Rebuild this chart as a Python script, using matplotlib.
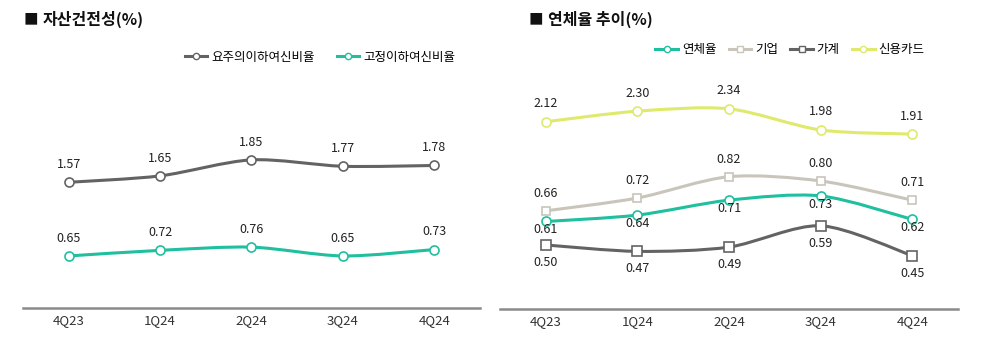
import matplotlib.pyplot as plt
from matplotlib.path import Path
from matplotlib.patches import PathPatch
from matplotlib.lines import Line2D

plt.rcParams['font.family'] = ['Noto Sans CJK KR', 'DejaVu Sans']

quarters = ['4Q23', '1Q24', '2Q24', '3Q24', '4Q24']

# 자산건전성
watch_ratio = [1.57, 1.65, 1.85, 1.77, 1.78]   # 요주의이하여신비율
npl_ratio = [0.65, 0.72, 0.76, 0.65, 0.73]     # 고정이하여신비율

# 연체율 추이
delinq = [0.61, 0.64, 0.71, 0.73, 0.62]        # 연체율
corp = [0.66, 0.72, 0.82, 0.80, 0.71]          # 기업
household = [0.50, 0.47, 0.49, 0.59, 0.45]     # 가계
card = [2.12, 2.30, 2.34, 1.98, 1.91]          # 신용카드

TEAL = '#1fbf9f'
DGRAY = '#636363'
BEIGE = '#c9c5bb'
LIME = '#dfe96c'


def smooth_line(ax, xs, ys, color, lw=2.2):
    # catmull-rom -> cubic bezier through the data points
    pts = list(zip(xs, ys))
    verts = [pts[0]]
    codes = [Path.MOVETO]
    n = len(pts)
    for i in range(n - 1):
        p0 = pts[i - 1] if i > 0 else pts[i]
        p1 = pts[i]
        p2 = pts[i + 1]
        p3 = pts[i + 2] if i + 2 < n else pts[i + 1]
        c1 = (p1[0] + (p2[0] - p0[0]) / 7, p1[1] + (p2[1] - p0[1]) / 7)
        c2 = (p2[0] - (p3[0] - p1[0]) / 7, p2[1] - (p3[1] - p1[1]) / 7)
        verts += [c1, c2, p2]
        codes += [Path.CURVE4] * 3
    ax.add_patch(PathPatch(Path(verts, codes), fill=False, edgecolor=color,
                           lw=lw, capstyle='round', zorder=2))


def series(ax, vals, color, marker, dy, ms=6.5):
    x = range(len(vals))
    smooth_line(ax, x, vals, color)
    ax.plot(x, vals, linestyle='none', marker=marker, ms=ms, mfc='white',
            mec=color, mew=1.2, zorder=3)
    for i, v in enumerate(vals):
        ax.annotate(f'{v:.2f}', (i, v), xytext=(0, dy), textcoords='offset points',
                    ha='center', va='center', fontsize=9, color='#222222', zorder=4)


def style(ax):
    for s in ['top', 'left', 'right']:
        ax.spines[s].set_visible(False)
    ax.spines['bottom'].set_color('#8a8a8a')
    ax.spines['bottom'].set_linewidth(1.8)
    ax.set_yticks([])
    ax.set_xticks(range(len(quarters)))
    ax.set_xticklabels(quarters, fontsize=9.5, color='#333333')
    ax.tick_params(axis='x', length=0, pad=4)
    ax.set_xlim(-0.5, 4.5)


fig = plt.figure(figsize=(10.04, 3.51), dpi=100)

# ---------- left: 자산건전성 ----------
ax1 = fig.add_axes([23 / 1004, 43 / 351, 457 / 1004, 229 / 351])
style(ax1)
ax1.set_ylim(0, 2.86)
series(ax1, watch_ratio, DGRAY, 'o', 12.6)
series(ax1, npl_ratio, TEAL, 'o', 12.9)

fig.text(24 / 1004, 1 - 20 / 351, '■', fontsize=10.5, va='center', ha='left', color='#111111')
fig.text(43 / 1004, 1 - 19 / 351, '자산건전성(%)', fontsize=11.5, fontweight='bold',
         va='center', ha='left', color='#111111')

h1 = [Line2D([], [], color=DGRAY, lw=2.2, marker='o', ms=4.5, mfc='white', mec=DGRAY),
      Line2D([], [], color=TEAL, lw=2.2, marker='o', ms=4.5, mfc='white', mec=TEAL)]
fig.legend(h1, ['요주의이하여신비율', '고정이하여신비율'], loc='center',
           bbox_to_anchor=(320 / 1004, 1 - 57 / 351), ncol=2, frameon=False,
           fontsize=9, handlelength=1.8, handletextpad=0.3, columnspacing=1.8)

# ---------- right: 연체율 추이 ----------
ax2 = fig.add_axes([500 / 1004, 42 / 351, 458 / 1004, 229 / 351])
style(ax2)
ax2.set_ylim(0.2, 1.273)
series(ax2, corp, BEIGE, 's', 12.5, ms=6)
series(ax2, delinq, TEAL, 'o', -6)
series(ax2, household, DGRAY, 's', -12.5, ms=6.5)

ax3 = ax2.twinx()
ax3.set_ylim(-1.065, 2.83)
ax3.axis('off')
series(ax3, card, LIME, 'o', 13)

fig.text(529 / 1004, 1 - 20 / 351, '■', fontsize=10.5, va='center', ha='left', color='#111111')
fig.text(548 / 1004, 1 - 19 / 351, '연체율 추이(%)', fontsize=11.5, fontweight='bold',
         va='center', ha='left', color='#111111')

h2 = [Line2D([], [], color=TEAL, lw=2.2, marker='o', ms=4.5, mfc='white', mec=TEAL),
      Line2D([], [], color=BEIGE, lw=2.2, marker='s', ms=4, mfc='white', mec=BEIGE),
      Line2D([], [], color=DGRAY, lw=2.2, marker='s', ms=4, mfc='white', mec=DGRAY),
      Line2D([], [], color=LIME, lw=2.2, marker='o', ms=4.5, mfc='white', mec=LIME)]
fig.legend(h2, ['연체율', '기업', '가계', '신용카드'], loc='center',
           bbox_to_anchor=(790 / 1004, 1 - 50 / 351), ncol=4, frameon=False,
           fontsize=9, handlelength=1.8, handletextpad=0.3, columnspacing=1.0)

fig.savefig('out.png', dpi=100)
